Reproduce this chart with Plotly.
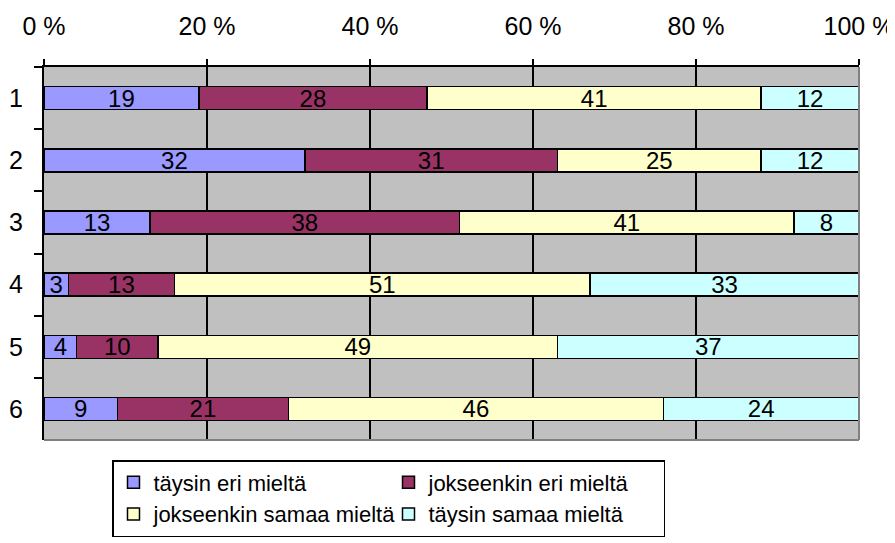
import plotly.graph_objects as go

# Survey answers (%) per statement 1-6
categories = ["1", "2", "3", "4", "5", "6"]
taysin_eri = [19, 32, 13, 3, 4, 9]
jokseenkin_eri = [28, 31, 38, 13, 10, 21]
jokseenkin_samaa = [41, 25, 41, 51, 49, 46]
taysin_samaa = [12, 12, 8, 33, 37, 24]

series = [
    ("täysin eri mieltä", taysin_eri, "#9999FF"),
    ("jokseenkin eri mieltä", jokseenkin_eri, "#993366"),
    ("jokseenkin samaa mieltä", jokseenkin_samaa, "#FFFFCC"),
    ("täysin samaa mieltä", taysin_samaa, "#CCFFFF"),
]

FONT = "Liberation Sans, Arial, sans-serif"

fig = go.Figure()
for name, vals, color in series:
    fig.add_trace(go.Bar(
        y=categories,
        x=vals,
        name=name,
        orientation="h",
        marker=dict(color=color, line=dict(color="black", width=1.5)),
        text=[str(v) for v in vals],
        textposition="inside",
        insidetextanchor="middle",
        textangle=0,
        textfont=dict(color="black", size=24, family=FONT),
        hoverinfo="x+name",
    ))

# the page body has an 8px margin, so the margins are shifted by 8px
fig.update_layout(
    barmode="stack",
    bargap=0.63,
    width=895,
    height=543,
    margin=dict(l=36, r=44, t=59, b=111, autoexpand=False),
    paper_bgcolor="white",
    plot_bgcolor="#C0C0C0",
    font=dict(family=FONT, color="black"),
    uniformtext=dict(minsize=24, mode="show"),
    showlegend=True,
    legend=dict(
        orientation="h",
        x=(112 - 44) / 815,
        xanchor="left",
        y=-20 / 373,
        yanchor="top",
        font=dict(size=22, family=FONT),
        bordercolor="black",
        borderwidth=1.5,
        bgcolor="white",
        entrywidth=230,
        traceorder="normal",
    ),
    shapes=[
        dict(type="line", xref="paper", yref="paper", x0=1, x1=1, y0=0, y1=1,
             line=dict(color="#808080", width=2)),
        dict(type="line", xref="paper", yref="paper", x0=0, x1=1, y0=0, y1=0,
             line=dict(color="#808080", width=2)),
    ],
)

fig.update_xaxes(
    side="top",
    range=[0, 100],
    dtick=20,
    ticksuffix=" %",
    showgrid=True,
    gridcolor="black",
    gridwidth=2,
    zeroline=False,
    showline=True,
    linecolor="black",
    linewidth=2,
    ticks="outside",
    ticklen=6,
    tickwidth=2,
    tickcolor="black",
    ticklabelstandoff=14,
    tickfont=dict(size=25, family=FONT),
    automargin=False,
    fixedrange=True,
)

fig.update_yaxes(
    autorange="reversed",
    tickson="boundaries",
    showgrid=False,
    showline=True,
    linecolor="black",
    linewidth=2,
    ticks="outside",
    ticklen=8,
    tickwidth=2,
    tickcolor="black",
    ticklabelstandoff=14,
    tickfont=dict(size=25, family=FONT),
    automargin=False,
    fixedrange=True,
)

fig.write_html("out.html")
